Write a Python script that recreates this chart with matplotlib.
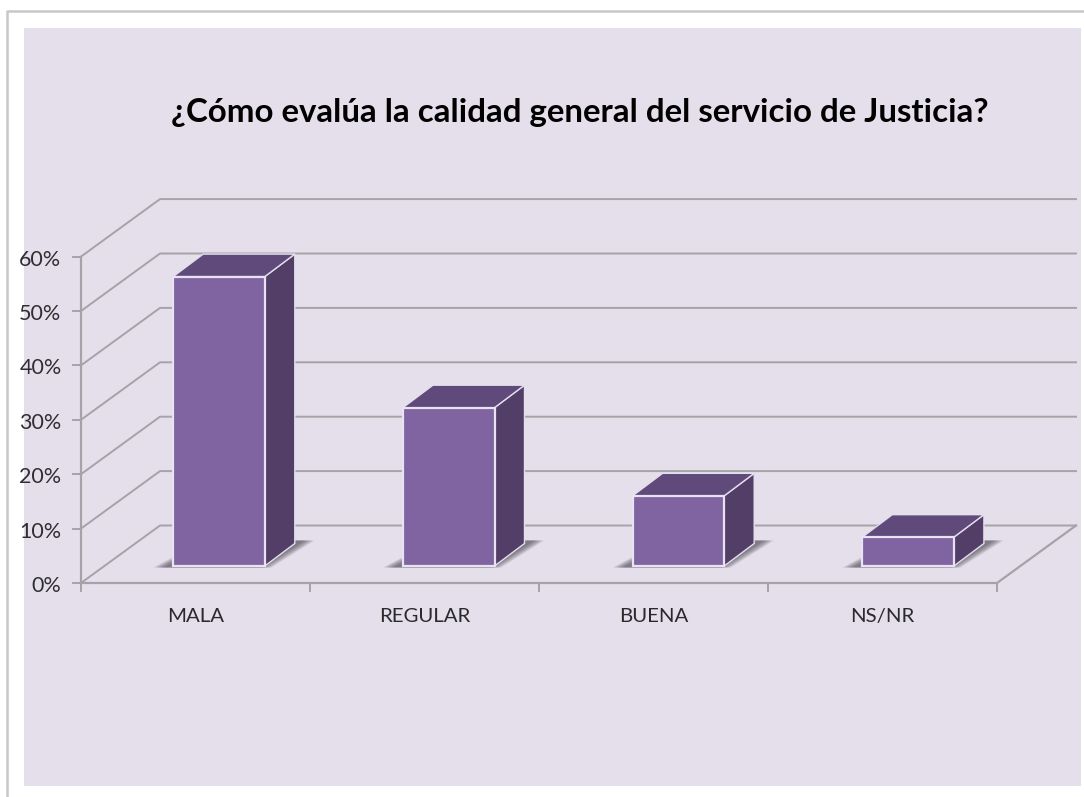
import matplotlib
matplotlib.use('Agg')
import matplotlib.pyplot as plt
from matplotlib.patches import Polygon, Rectangle

categories = ['MALA', 'REGULAR', 'BUENA', 'NS/NR']
values = [53.2, 29.1, 12.9, 5.3]
yticks = [0, 10, 20, 30, 40, 50, 60]
title = '¿Cómo evalúa la calidad general del servicio de Justicia?'

W, H = 1084, 797
# pixel position of the chart origin and scale
x0_px, y0_px = 81, 583
cat_px = 229.0
pct_px = 5.44
# depth of the floor in data units
depth_x = 79 / cat_px
depth_y = 57.5 / pct_px
n = len(categories)

plt.rcParams['font.family'] = ['Lato', 'DejaVu Sans']

fig = plt.figure(figsize=(W / 100, H / 100), dpi=100, facecolor='white')
ax = fig.add_axes([0, 0, 1, 1])
ax.set_xlim(-x0_px / cat_px, (W - x0_px) / cat_px)
ax.set_ylim((y0_px - H) / pct_px, y0_px / pct_px)
ax.axis('off')


def px(x, y):
    return (x - x0_px) / cat_px, (y0_px - y) / pct_px


# page edge (top and left only) and panel
ax.plot(*zip(px(7, 797), px(7, 10.5), px(1084, 10.5)), color='#c8c8c4', lw=1.8, zorder=0)
ax.add_patch(Rectangle(px(24, 786), 1057 / cat_px, 758 / pct_px, fc='#e5dfeb', ec='none', zorder=1))

grid = '#a5a2a8'
# walls
for v in yticks:
    ax.plot([0, depth_x, n + depth_x], [v, v + depth_y, v + depth_y], color=grid, lw=1.4, zorder=2)
    ax.plot([-8 / cat_px, 0], [v, v], color=grid, lw=1.4, zorder=2)
ax.plot([0, 0], [0, yticks[-1]], color=grid, lw=1.6, zorder=2)
ax.plot([0, n, n + depth_x], [0, 0, depth_y], color=grid, lw=1.6, zorder=2)
for i in range(n + 1):
    ax.plot([i, i], [0, -8 / pct_px], color=grid, lw=1.4, zorder=2)

# bars
bar_w = 0.40
bar_pitch = 229.7 / cat_px
off = 23.5 / cat_px
for i, v in enumerate(values):
    xl = i * bar_pitch + 0.5 - bar_w / 2 + off
    xr = xl + bar_w
    yb = 17 / pct_px
    dx = 30 / cat_px
    dy = 22.5 / pct_px
    # soft shadow on the floor, darker towards the bar
    for k in range(12):
        g = k * 1.0 / cat_px
        shadow = [(xl - 20 / cat_px + g, yb - 1.5 / pct_px), (xr + 7 / cat_px - g, yb - 1.5 / pct_px),
                  (xr + dx + 20 / cat_px - g, yb + dy + 3 / pct_px), (xl + dx + g, yb + dy + 3 / pct_px)]
        ax.add_patch(Polygon(shadow, fc='#4a4650', ec='none', alpha=0.08, zorder=3))
    ax.add_patch(Polygon([(xr, yb), (xr + dx, yb + dy), (xr + dx, v + yb + dy), (xr, v + yb)],
                         fc='#533e67', ec='#e4dfec', lw=1, zorder=4))
    ax.add_patch(Polygon([(xl, v + yb), (xr, v + yb), (xr + dx, v + yb + dy), (xl + dx, v + yb + dy)],
                         fc='#604a7b', ec='#e4dfec', lw=1, zorder=4))
    ax.add_patch(Rectangle((xl, yb), bar_w, v, fc='#8064a2', ec='#e8e2f2', lw=1.6, zorder=5))
    ax.text(i + 0.5, -39 / pct_px, categories[i], ha='center', va='baseline', fontsize=14.7, color='#2a2a2e', zorder=6)

for v in yticks:
    ax.text(-19.5 / cat_px, v - 9 / pct_px, '%d%%' % v, ha='right', va='baseline', fontsize=15.5, color='#2f2f33', zorder=6)

tx, ty = px(580, 122)
ax.text(tx, ty, title, ha='center', va='baseline', fontsize=23.8, fontweight='bold', color='black', zorder=6)

fig.savefig('out.png', dpi=100, facecolor='white')
